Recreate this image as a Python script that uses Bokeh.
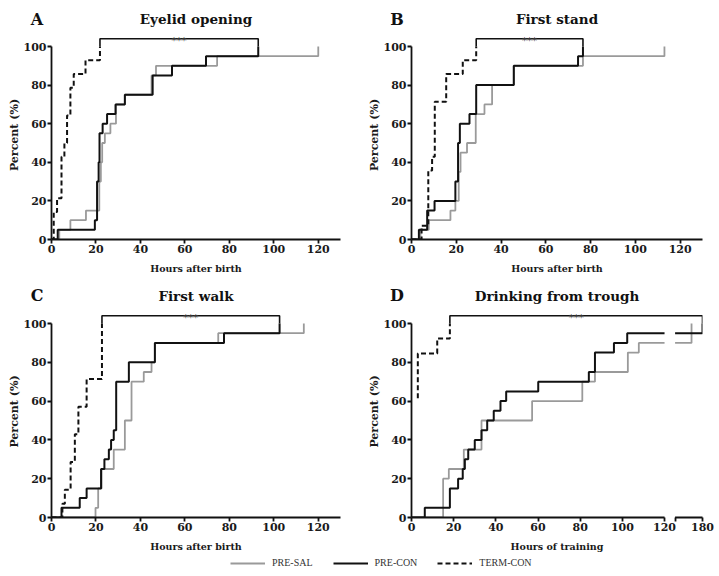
import numpy as np
from bokeh.plotting import figure
from bokeh.models import Range1d, FixedTicker, Label, Legend, LegendItem
from bokeh.layouts import column, row
from bokeh.core.properties import value
from bokeh.embed import file_html
from bokeh.resources import INLINE

# ---------------- data (cumulative % of animals, step times in hours) ----------------
# Panel A - Eyelid opening (hours after birth)
A_sal_t = [0, 3.5, 8.5, 15.5, 21.5, 22.2, 22.8, 24, 26.5, 29, 33, 45, 47, 74.5, 120]
A_sal_y = [0, 5, 10, 15, 30, 40, 50, 55, 60, 70, 75, 85, 90, 95, 100]
A_con_t = [0, 2.8, 19.5, 20.5, 21.2, 21.6, 23, 25, 28.8, 33, 45.5, 54.2, 69.5, 93]
A_con_y = [0, 5, 10, 30, 40, 55, 60, 65, 70, 75, 85, 90, 95, 100]
A_term_t = [0, 1, 2.5, 4.5, 5.8, 7, 8.5, 10, 15.3, 21.8]
A_term_y = [0, 14.3, 21.4, 42.9, 50, 64.3, 78.6, 85.7, 92.9, 100]

# Panel B - First stand (hours after birth)
B_sal_t = [0, 4, 7.7, 17.4, 19.6, 21.1, 21.9, 24.8, 28.7, 32.6, 36, 45.7, 76.6, 113]
B_sal_y = [0, 5, 10, 15, 20, 35, 45, 50, 65, 70, 80, 90, 95, 100]
B_con_t = [0, 3.3, 7, 10.3, 19.6, 20.8, 21.6, 25.9, 28.9, 45.7, 74.4, 76.6]
B_con_y = [0, 5, 15, 20, 30, 50, 60, 65, 80, 90, 95, 100]
B_term_t = [0, 4.5, 7.5, 9.2, 10.4, 15.5, 22.9, 28.9]
B_term_y = [0, 7.1, 35.7, 42.9, 71.4, 85.7, 92.9, 100]

# Panel C - First walk (hours after birth)
C_sal_t = [0, 19.8, 21, 22.5, 28, 33, 36, 41.5, 45, 46.5, 75, 113.5]
C_sal_y = [0, 5, 15, 25, 35, 50, 70, 75, 80, 90, 95, 100]
C_con_t = [0, 4.5, 12.7, 15.8, 22.3, 23.8, 25.8, 26.8, 28, 29.1, 34.8, 46.5, 77.6, 102.6]
C_con_y = [0, 5, 10, 15, 25, 30, 35, 40, 45, 70, 80, 90, 95, 100]
C_term_t = [0, 4.9, 6, 8.6, 10.5, 12.1, 15.8, 22.7]
C_term_y = [0, 7.1, 14.3, 28.6, 42.9, 57.1, 71.4, 100]

# Panel D - Drinking from trough (hours of training, broken axis 120 | 160-180)
D_sal_t = [0, 15, 17.7, 24.8, 33.2, 57.2, 81, 87, 102.6, 107.8, 172]
D_sal_y = [0, 20, 25, 35, 50, 60, 70, 75, 85, 90, 100]
D_con_t = [0, 6.3, 18.2, 22.1, 24.3, 25.3, 26.9, 30, 33.2, 35.9, 39, 42.2, 44.9, 60.1, 84.1, 87, 96, 102.3, 180]
D_con_y = [0, 5, 15, 20, 25, 30, 35, 40, 45, 50, 55, 60, 65, 70, 75, 85, 90, 95, 100]
D_term_t = [3, 3, 12.2, 18.2]
D_term_y = [61.5, 84.6, 92.3, 100]

x_ticks = [0, 20, 40, 60, 80, 100, 120]
y_ticks = [0, 20, 40, 60, 80, 100]
groups = ["PRE-SAL", "PRE-CON", "TERM-CON"]
titles = ["Eyelid opening", "First stand", "First walk", "Drinking from trough"]
letters = ["A", "B", "C", "D"]
xlabels = ["Hours after birth", "Hours after birth", "Hours after birth", "Hours of training"]
ylabel = "Percent (%)"

# broken axis for panel D
BREAK_LO, BREAK_HI, D_END = 120, 160, 180
U_HI, U_END = 125, 138

GRAY = "#9a9a9a"
BLACK = "#111111"
SERIF = "DejaVu Serif"

# layout geometry (px)
PAGE_W = 719
COL_W = [360, 359]
RIGHT = [20, 17]
LEFT, BOTTOM = 51, 41


def to_u(v):
    if v != v:
        return v
    if v <= BREAK_LO:
        return v
    return U_HI + (v - BREAK_HI) * (U_END - U_HI) / (D_END - BREAK_HI)


def steps(t, y):
    xs, ys = [t[0]], [y[0]]
    for i in range(1, len(t)):
        xs += [t[i], t[i]]
        ys += [y[i - 1], y[i]]
    return xs, ys


def apply_break(xs, ys):
    ox, oy = [], []
    for i in range(len(xs)):
        if i > 0 and xs[i - 1] <= BREAK_LO and xs[i] >= BREAK_HI:
            ox += [BREAK_LO, np.nan, BREAK_HI]
            oy += [ys[i - 1], np.nan, ys[i - 1]]
        ox.append(xs[i])
        oy.append(ys[i])
    return [to_u(v) for v in ox], oy


def make_panel(idx, data, height, top, y_scale, broken=False):
    col = idx % 2
    width, right = COL_W[col], RIGHT[col]
    fh = height - top - BOTTOM
    x_end = U_END if broken else 130
    p = figure(width=width, height=height, output_backend="svg", toolbar_location=None,
               x_range=Range1d(0, x_end), y_range=Range1d(0, fh / y_scale),
               min_border_left=LEFT, min_border_right=right,
               min_border_top=top, min_border_bottom=BOTTOM)
    p.outline_line_color = None
    p.grid.visible = False

    for ax in (p.xaxis[0], p.yaxis[0]):
        ax.axis_line_width = 1.8
        ax.axis_line_color = BLACK
        ax.major_tick_line_width = 1.8
        ax.major_tick_line_color = BLACK
        ax.major_tick_out = 4
        ax.major_tick_in = 0
        ax.minor_tick_line_color = None
        ax.major_label_text_font = SERIF
        ax.major_label_text_font_style = "bold"
        ax.major_label_text_font_size = "11px"
        ax.major_label_text_color = "#1a1a1a"
        ax.axis_label_text_font = SERIF
        ax.axis_label_text_font_style = "bold"
        ax.axis_label_text_color = "#1a1a1a"
        ax.major_label_standoff = 1

    p.yaxis.ticker = FixedTicker(ticks=y_ticks)
    p.yaxis.bounds = (0, 100)
    p.yaxis.axis_label = ylabel
    p.yaxis.axis_label_text_font_size = "11px"
    p.yaxis.axis_label_standoff = 0

    p.xaxis.axis_label = xlabels[idx]
    p.xaxis.axis_label_text_font_size = "9.5px"
    p.xaxis.axis_label_standoff = 7

    if broken:
        p.xaxis.ticker = FixedTicker(ticks=x_ticks + [U_HI, U_END])
        p.xaxis.major_label_overrides = {U_HI: "", U_END: str(D_END)}
        p.xaxis.axis_line_color = None
        p.line([0, to_u(BREAK_LO), np.nan, U_HI, U_END], [0, 0, np.nan, 0, 0],
               line_color=BLACK, line_width=1.8, level="overlay")
    else:
        p.xaxis.ticker = FixedTicker(ticks=x_ticks)

    (st, sy), (ct, cy), (tt, ty) = data
    styles = [dict(line_color=GRAY, line_width=1.8),
              dict(line_color=BLACK, line_width=2.0),
              dict(line_color=BLACK, line_width=2.0, line_dash="5 3")]
    for (t, y), sty in zip(data, styles):
        xs, ys = steps(t, y)
        if broken:
            xs, ys = apply_break(xs, ys)
        p.line(xs, ys, **sty)

    # significance bracket: TERM-CON vs PRE-CON
    xl = to_u(tt[-1]) if broken else tt[-1]
    xr = to_u(ct[-1]) if broken else ct[-1]
    p.line([xl, xl, xr, xr], [100, 104, 104, 100], line_color=BLACK, line_width=1.6)
    p.add_layout(Label(x=(xl + xr) / 2, y=103, text="***", text_align="center",
                       text_baseline="alphabetic", text_font=SERIF,
                       text_font_size="10px", text_color="#444444"))
    return p


def header(row_idx, height, mid_y):
    h = figure(width=PAGE_W, height=height, output_backend="svg", toolbar_location=None,
               x_range=Range1d(0, PAGE_W), y_range=Range1d(0, height), min_border=0,
               x_axis_type=None, y_axis_type=None)
    h.outline_line_color = None
    h.grid.visible = False
    col_x0 = [0, COL_W[0]]
    frame_c = [col_x0[c] + LEFT + (COL_W[c] - LEFT - RIGHT[c]) / 2 for c in (0, 1)]
    letter_x = [col_x0[c] + LEFT - 14.5 for c in (0, 1)]
    idx = [2 * row_idx, 2 * row_idx + 1]
    h.text(x=frame_c, y=[mid_y] * 2, text=[titles[i] for i in idx],
           text_align="center", text_baseline="middle", text_font=value(SERIF),
           text_font_style="bold", text_font_size="13.5px", text_color="#111111")
    h.text(x=letter_x, y=[mid_y] * 2, text=[letters[i] for i in idx],
           text_align="center", text_baseline="middle", text_font=value(SERIF),
           text_font_style="bold", text_font_size="16px", text_color="#111111")
    return h


h1 = header(0, 28, 9.5)
pA = make_panel(0, [(A_sal_t, A_sal_y), (A_con_t, A_con_y), (A_term_t, A_term_y)], 252, 2, 1.93)
pB = make_panel(1, [(B_sal_t, B_sal_y), (B_con_t, B_con_y), (B_term_t, B_term_y)], 252, 2, 1.93)
h2 = header(1, 24, 9)
pC = make_panel(2, [(C_sal_t, C_sal_y), (C_con_t, C_con_y), (C_term_t, C_term_y)], 254, 1, 1.94)
pD = make_panel(3, [(D_sal_t, D_sal_y), (D_con_t, D_con_y), (D_term_t, D_term_y)], 254, 1, 1.94, broken=True)

# legend strip
leg = figure(width=PAGE_W, height=18, output_backend="svg", toolbar_location=None,
             x_range=Range1d(0, 1), y_range=Range1d(0, 1), min_border=0,
             x_axis_type=None, y_axis_type=None)
leg.outline_line_color = None
leg.grid.visible = False
r1 = leg.line([5, 6], [5, 6], line_color=GRAY, line_width=1.8)
r2 = leg.line([5, 6], [5, 6], line_color=BLACK, line_width=2.0)
r3 = leg.line([5, 6], [5, 6], line_color=BLACK, line_width=2.0, line_dash="5 3")
legend = Legend(items=[LegendItem(label=groups[0], renderers=[r1]),
                       LegendItem(label=groups[1], renderers=[r2]),
                       LegendItem(label=groups[2], renderers=[r3])],
                orientation="horizontal", location=(230, 8),
                glyph_width=35, glyph_height=10, label_height=10, label_standoff=7,
                spacing=20, padding=0, margin=0, border_line_color=None,
                background_fill_alpha=0, label_text_font="Liberation Serif",
                label_text_font_size="10px", label_text_color="#333333")
leg.add_layout(legend)

layout = column(h1, row(pA, pB), h2, row(pC, pD), leg)
open("out.html", "w").write(file_html(layout, INLINE))
